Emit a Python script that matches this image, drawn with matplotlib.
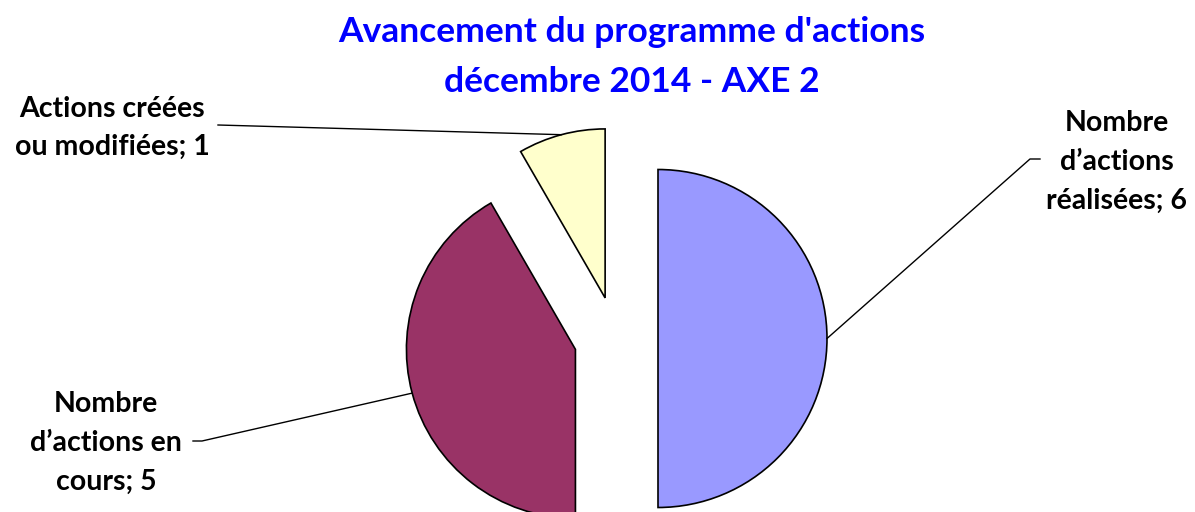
import matplotlib.pyplot as plt
import numpy as np

# data
labels = ["Nombre\nd’actions\nréalisées; 6",
          "Nombre\nd’actions en\ncours; 5",
          "Actions créées\nou modifiées; 1"]
values = [6, 5, 1]
colors = ["#9999FF", "#993366", "#FFFFCC"]
title = "Avancement du programme d'actions\ndécembre 2014 - AXE 2"

W, H = 1195, 512
plt.rcParams['font.family'] = ['Lato', 'DejaVu Sans']

fig = plt.figure(figsize=(W / 100, H / 100), dpi=100)
ax = fig.add_axes([0, 0, 1, 1])

# pie in pixel-like units (y up)
radius = 169
center = (616, H - 338.5)
wedges, _ = ax.pie(values, radius=radius, center=center, startangle=90,
                   counterclock=False, explode=[42, 42, 42], colors=colors,
                   wedgeprops=dict(edgecolor="black", linewidth=1.2))

ax.set_xlim(0, W)
ax.set_ylim(0, H)
ax.set_aspect("equal")
ax.axis("off")

# label positions (pixel coords from top) and where the leader leaves the label
label_pos = [(1117, 162), (106, 443), (112, 128)]
leader_start = [[(1040, 159), (1030, 159)],
                [(193, 441), (202, 441)],
                [(218, 125)]]

for w, lab, (lx, ly), pts in zip(wedges, labels, label_pos, leader_start):
    mid = np.deg2rad((w.theta1 + w.theta2) / 2)
    ex = w.center[0] + w.r * np.cos(mid)
    ey = w.center[1] + w.r * np.sin(mid)
    xs = [p[0] for p in pts] + [ex]
    ys = [H - p[1] for p in pts] + [ey]
    ax.plot(xs, ys, color="black", linewidth=1.0)
    ax.text(lx, H - ly, lab, ha="center", va="center", fontsize=20.5,
            fontweight="bold", color="black", linespacing=1.6)

ax.text(632, H - 57, title, ha="center", va="center", fontsize=25.5,
        fontweight="bold", color="#0000FF", linespacing=1.7)

fig.savefig("out.png", dpi=100)
